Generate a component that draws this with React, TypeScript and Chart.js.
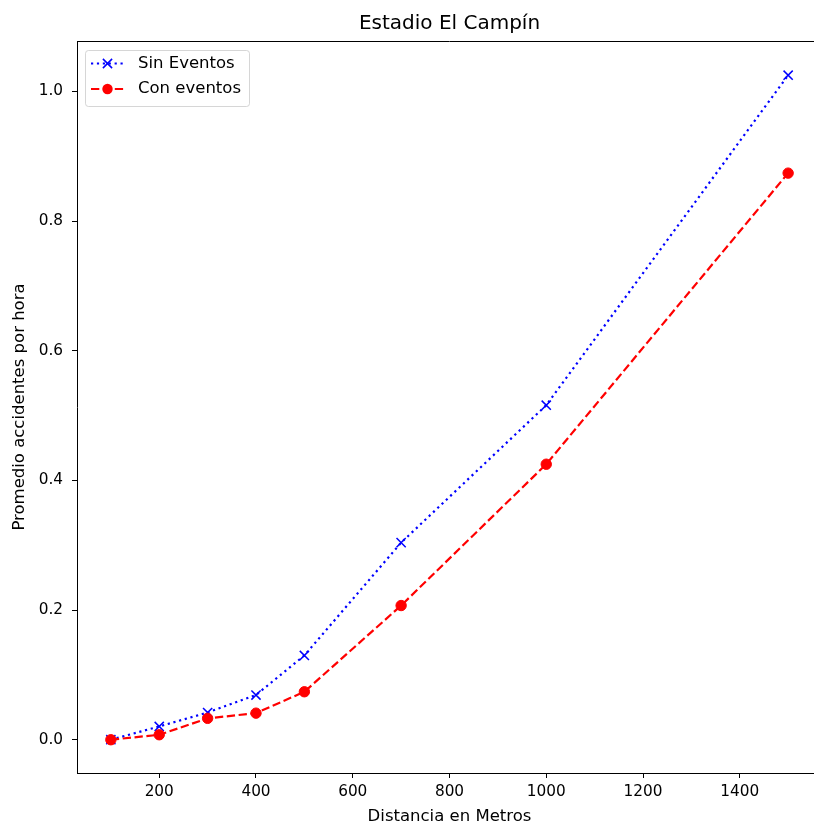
import React, { useEffect, useRef } from "react";
import { Chart, registerables } from "chart.js";
Chart.register(...registerables);

const distances = [100, 200, 300, 400, 500, 700, 1000, 1500];
const sinEventos = [0.0, 0.0205, 0.042, 0.069, 0.13, 0.304, 0.516, 1.025];
const conEventos = [0.0, 0.0077, 0.033, 0.041, 0.074, 0.207, 0.425, 0.874];
const xTicks = [200, 400, 600, 800, 1000, 1200, 1400];
const yTicks = [0.0, 0.2, 0.4, 0.6, 0.8, 1.0];
const seriesLabels = ["Sin Eventos", "Con eventos"];
const titleText = "Estadio El Campín";
const xLabel = "Distancia en Metros";
const yLabel = "Promedio accidentes por hora";
const xLimits = [30, 1570];
const yLimits = [-0.0513, 1.0778];

const FONT = "'DejaVu Sans', sans-serif";
const TICK_SIZE = 15.3;
const LABEL_SIZE = 16.5;
const TITLE_SIZE = 20;

const decorPlugin = {
  id: "decor",
  afterDraw(chart: any) {
    const { ctx, chartArea: a } = chart;
    ctx.save();
    // top and right spines
    ctx.strokeStyle = "#000";
    ctx.lineWidth = 1;
    ctx.setLineDash([]);
    ctx.beginPath();
    ctx.moveTo(a.left, Math.round(a.top) + 0.5);
    ctx.lineTo(a.right, Math.round(a.top) + 0.5);
    ctx.lineTo(a.right, a.bottom);
    ctx.stroke();

    // y axis label
    ctx.save();
    ctx.translate(19.5, (a.top + a.bottom) / 2);
    ctx.rotate(-Math.PI / 2);
    ctx.font = `${LABEL_SIZE}px ${FONT}`;
    ctx.fillStyle = "#000";
    ctx.textAlign = "center";
    ctx.textBaseline = "middle";
    ctx.fillText(yLabel, 0, 0);
    ctx.restore();

    // legend
    const bx = 85.5, by = 50.5, bw = 164, bh = 56, r = 3;
    ctx.beginPath();
    ctx.moveTo(bx + r, by);
    ctx.lineTo(bx + bw - r, by);
    ctx.arcTo(bx + bw, by, bx + bw, by + r, r);
    ctx.lineTo(bx + bw, by + bh - r);
    ctx.arcTo(bx + bw, by + bh, bx + bw - r, by + bh, r);
    ctx.lineTo(bx + r, by + bh);
    ctx.arcTo(bx, by + bh, bx, by + bh - r, r);
    ctx.lineTo(bx, by + r);
    ctx.arcTo(bx, by, bx + r, by, r);
    ctx.closePath();
    ctx.fillStyle = "rgba(255,255,255,0.8)";
    ctx.fill();
    ctx.strokeStyle = "rgba(204,204,204,0.8)";
    ctx.lineWidth = 1;
    ctx.stroke();

    const order = [0, 1];
    order.forEach((di, i) => {
      const ds = chart.data.datasets[di];
      const y = 63.5 + i * 25.5;
      ctx.save();
      ctx.strokeStyle = ds.borderColor;
      ctx.lineWidth = ds.borderWidth;
      ctx.setLineDash(ds.borderDash || []);
      ctx.beginPath();
      ctx.moveTo(91, y);
      ctx.lineTo(124, y);
      ctx.stroke();
      ctx.setLineDash([]);
      const cx = 107.5;
      if (ds.pointStyle === "crossRot") {
        const o = ds.pointRadius * Math.SQRT1_2;
        ctx.strokeStyle = ds.pointBorderColor;
        ctx.lineWidth = ds.pointBorderWidth;
        ctx.beginPath();
        ctx.moveTo(cx - o, y - o);
        ctx.lineTo(cx + o, y + o);
        ctx.moveTo(cx - o, y + o);
        ctx.lineTo(cx + o, y - o);
        ctx.stroke();
      } else {
        ctx.fillStyle = ds.pointBackgroundColor;
        ctx.beginPath();
        ctx.arc(cx, y, ds.pointRadius, 0, Math.PI * 2);
        ctx.fill();
      }
      ctx.font = `${LABEL_SIZE}px ${FONT}`;
      ctx.fillStyle = "#000";
      ctx.textAlign = "left";
      ctx.textBaseline = "middle";
      ctx.fillText(ds.label, 138, y);
      ctx.restore();
    });
    ctx.restore();
  },
};

export default function App() {
  const ref = useRef<HTMLCanvasElement>(null);
  useEffect(() => {
    const toPts = (ys: number[]) => distances.map((x, i) => ({ x, y: ys[i] }));
    const chart = new Chart(ref.current as HTMLCanvasElement, {
      type: "line",
      data: {
        datasets: [
          {
            label: seriesLabels[0],
            data: toPts(sinEventos),
            borderColor: "#0000ff",
            borderWidth: 2.2,
            borderDash: [2.2, 3.7],
            pointStyle: "crossRot",
            pointRadius: 6.5,
            pointBorderColor: "#0000ff",
            pointBackgroundColor: "#0000ff",
            pointBorderWidth: 1.5,
            fill: false,
            tension: 0,
            order: 1,
          } as any,
          {
            label: seriesLabels[1],
            data: toPts(conEventos),
            borderColor: "#ff0000",
            borderWidth: 2.2,
            borderDash: [8.3, 3.6],
            pointStyle: "circle",
            pointRadius: 5.2,
            pointBorderColor: "#ff0000",
            pointBackgroundColor: "#ff0000",
            pointBorderWidth: 1,
            fill: false,
            tension: 0,
            order: 0,
          } as any,
        ],
      },
      options: {
        animation: false,
        responsive: false,
        devicePixelRatio: 1,
        layout: { padding: { left: 0, right: 4, top: 0, bottom: 0 } },
        plugins: {
          legend: { display: false },
          tooltip: { enabled: false },
          title: {
            display: true,
            text: titleText,
            fullSize: false,
            color: "#000",
            font: { family: FONT, size: TITLE_SIZE, weight: "normal", lineHeight: 1.2 },
            padding: { top: 11.3, bottom: 5.7 },
          },
        },
        scales: {
          x: {
            type: "linear",
            min: xLimits[0],
            max: xLimits[1],
            afterBuildTicks: (s: any) => {
              s.ticks = xTicks.map((v) => ({ value: v }));
            },
            afterFit: (s: any) => {
              s.height = 52;
            },
            ticks: {
              color: "#000",
              font: { family: FONT, size: TICK_SIZE },
              padding: 5,
              maxRotation: 0,
              callback: (v: any) => String(v),
            },
            grid: {
              display: true,
              drawOnChartArea: false,
              drawTicks: true,
              tickLength: 5,
              tickColor: "#000",
              tickWidth: 1,
            },
            border: { display: true, color: "#000", width: 1 },
            title: {
              display: true,
              text: xLabel,
              color: "#000",
              font: { family: FONT, size: LABEL_SIZE, lineHeight: 1 },
              padding: { top: 0, bottom: 0 },
            },
          },
          y: {
            type: "linear",
            min: yLimits[0],
            max: yLimits[1],
            afterBuildTicks: (s: any) => {
              s.ticks = yTicks.map((v) => ({ value: v }));
            },
            afterFit: (s: any) => {
              s.width = 77;
            },
            ticks: {
              color: "#000",
              font: { family: FONT, size: TICK_SIZE },
              padding: 9,
              callback: (v: any) => Number(v).toFixed(1),
            },
            grid: {
              display: true,
              drawOnChartArea: false,
              drawTicks: true,
              tickLength: 5,
              tickColor: "#000",
              tickWidth: 1,
            },
            border: { display: true, color: "#000", width: 1 },
          },
        },
      },
      plugins: [decorPlugin],
    } as any);
    return () => chart.destroy();
  }, []);
  return (
    <div
      style={{
        position: "absolute",
        left: 0,
        top: 0,
        width: 814,
        height: 825,
        overflow: "hidden",
        background: "#fff",
      }}
    >
      <canvas ref={ref} width={830} height={825} style={{ display: "block", width: 830, height: 825 }} />
    </div>
  );
}
